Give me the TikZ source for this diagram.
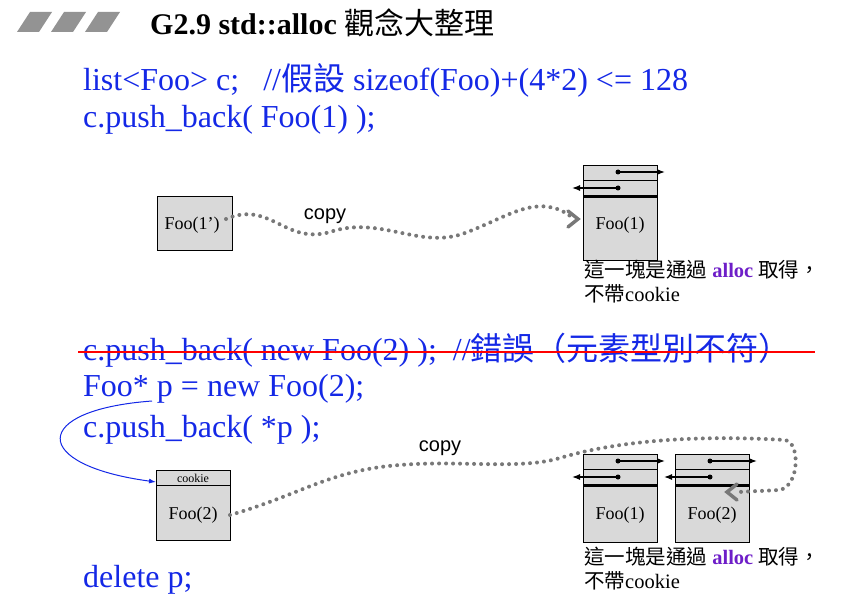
\documentclass[tikz,border=0pt]{standalone}
\usepackage{fontspec}
\setmainfont{Liberation Serif}
\setsansfont{Liberation Sans}
\newfontfamily\cjk{Noto Sans CJK TC}
\usetikzlibrary{arrows.meta,decorations.pathmorphing}
\definecolor{codeblue}{RGB}{20,40,230}
\definecolor{boxgray}{RGB}{217,217,217}
\definecolor{allocpurple}{RGB}{110,30,200}
\definecolor{dotgray}{RGB}{120,120,120}
\begin{document}
\begin{tikzpicture}[x=1pt,y=-1pt,
  code/.style={anchor=west,inner sep=0pt,text=codeblue,font=\fontsize{32}{34}\selectfont},
  box/.style={draw,fill=boxgray,line width=0.8pt},
  lbl/.style={font=\fontsize{18}{20}\selectfont,inner sep=0pt},
  note/.style={anchor=north west,inner sep=0pt,align=left,font=\fontsize{20.5}{24}\selectfont},
  dots/.style={line width=4pt,dash pattern=on 0pt off 7pt,line cap=round,draw=dotgray},
  dhead/.style={draw=dotgray,line width=3.5pt},
  ptr/.style={line width=1.3pt,-{Latex[length=8pt,width=6pt]}}]
\useasboundingbox (0,0) rectangle (848,604);
% title
\foreach \i in {0,1,2}{\fill[gray!85] (17+\i*34,32) -- (30+\i*34,12) -- (52+\i*34,12) -- (39+\i*34,32) -- cycle;}
\node[anchor=west,inner sep=0pt,font=\fontsize{30}{32}\selectfont\bfseries] (title) at (150,23) {G2.9 std::alloc {\cjk\mdseries 觀念大整理}};
% code
\node[code] (c1) at (83,80) {list<Foo> c;\ \ \ //{\cjk 假設} sizeof(Foo)+(4*2) <= 128};
\node[code] (c2) at (83,120) {c.push\_back( Foo(1) );};
\node[code] (c3) at (83,350) {c.push\_back( new Foo(2) );\ \ //{\cjk 錯誤（元素型別不符）}};
\draw[red,line width=2.5pt] (78,352) -- (815,352);
\node[code] (c4) at (83,389) {Foo* p = new Foo(2);};
\node[code] (c5) at (83,430) {c.push\_back( *p );};
\node[code] (c6) at (83,580) {delete p;};
% top boxes
\node[box,minimum width=75pt,minimum height=54pt,inner sep=0pt] (a1) at (194.5,223) {};
\node[lbl] at (192,225) {Foo(1')};
\draw[box] (583,165) rectangle (657,260);
\draw[line width=0.8pt] (583,180) -- (657,180) (583,195) -- (657,195);
\draw[line width=1.5pt] (583,197) -- (657,197);
\node[lbl] (b1) at (620,225) {Foo(1)};
\fill (618,172) circle (2.5pt); \draw[ptr] (618,172) -- (665,172);
\fill (618,188) circle (2.5pt); \draw[ptr] (618,188) -- (572,188);
\node[note] (n1) at (584,260) {{\cjk 這一塊是通過} {\color{allocpurple}\bfseries alloc} {\cjk 取得，}\\{\cjk 不帶}cookie};
% top copy
\draw[dots] (226,219) .. controls (270,200) and (285,245) .. (330,232)
  .. controls (380,215) and (420,250) .. (465,233) .. controls (505,218) and (530,198) .. (560,210) .. controls (570,215) .. (572,219);
\draw[dhead,line cap=round] (568,211) -- (578,219) -- (568,227);
\node[font=\sffamily\fontsize{20}{22}\selectfont,inner sep=0pt] (cp1) at (325,216) {copy};
% bottom left box
\draw[box] (156,470) rectangle (230,540);
\draw[line width=0.8pt] (156,485) -- (230,485);
\node[font=\fontsize{12}{13}\selectfont,inner sep=0pt] (ck) at (193,478) {cookie};
\node[lbl] (a2) at (193,515) {Foo(2)};
\coordinate (a2w) at (156,482);
% blue arrow
\draw[codeblue,line width=1pt,-{Latex[length=7pt,width=5pt]}] (152,401) .. controls (30,410) and (30,465) .. (a2w);
% bottom right boxes
\foreach \x/\t in {583/Foo(1),675/Foo(2)}{
  \draw[box] (\x,454) rectangle (\x+74,542);
  \draw[line width=0.8pt] (\x,469) -- (\x+74,469) (\x,484) -- (\x+74,484);
  \draw[line width=1.5pt] (\x,486) -- (\x+74,486);
  \node[lbl] at (\x+37,515) {\t};
  \fill (\x+35,461) circle (2.5pt); \draw[ptr] (\x+35,461) -- (\x+82,461);
  \fill (\x+35,477) circle (2.5pt); \draw[ptr] (\x+35,477) -- (\x-11,477);
}
\node[note] (n2) at (584,547) {{\cjk 這一塊是通過} {\color{allocpurple}\bfseries alloc} {\cjk 取得，}\\{\cjk 不帶}cookie};
% bottom copy
\draw[dots] (230,515) .. controls (300,495) and (330,470) .. (400,465)
  .. controls (460,460) and (520,470) .. (560,458) .. controls (620,440) and (700,435) .. (785,440)
  .. controls (800,442) and (800,485) .. (780,490) -- (738,492);
\draw[dhead,line cap=round] (737,484) -- (727,492) -- (737,500);
\node[font=\sffamily\fontsize{20}{22}\selectfont,inner sep=0pt] (cp2) at (440,448) {copy};
\end{tikzpicture}
\end{document}
